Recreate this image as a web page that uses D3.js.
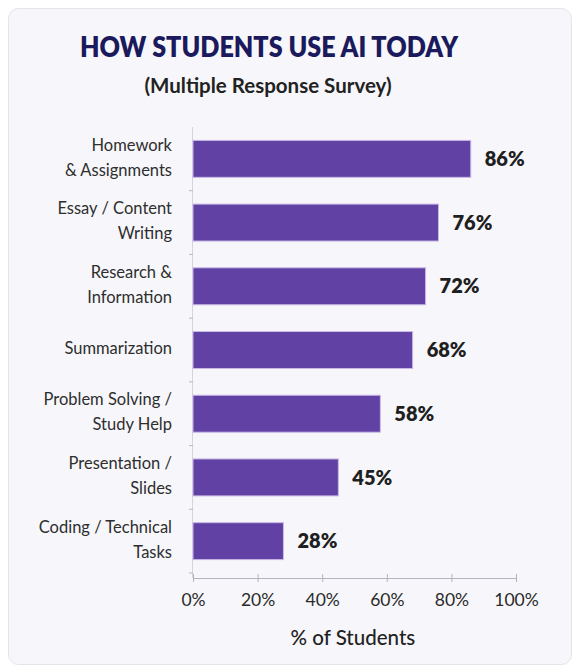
<!DOCTYPE html>
<html>
<head>
<meta charset="utf-8">
<script src="https://cdn.jsdelivr.net/npm/d3@7"></script>
<style>
    html, body { margin: 0; padding: 0; background: #ffffff; }
    svg { display: block; }
</style>
</head>
<body>
<svg id="chart"></svg>
<script>
// Chart data
const categories = [
    ["Homework", "& Assignments"],
    ["Essay / Content", "Writing"],
    ["Research &", "Information"],
    ["Summarization"],
    ["Problem Solving /", "Study Help"],
    ["Presentation /", "Slides"],
    ["Coding / Technical", "Tasks"]
];
const values = [86, 76, 72, 68, 58, 45, 28];
const xTicks = [0, 20, 40, 60, 80, 100];

function drawChart() {
    const W = 574, H = 666;
    const svg = d3.select('#chart')
        .attr('width', W)
        .attr('height', H)
        .style('font-family', 'Lato, "Open Sans", sans-serif');

    // Card background
    svg.append('rect')
        .attr('x', 8.5).attr('y', 8.5)
        .attr('width', 563).attr('height', 656)
        .attr('rx', 10)
        .attr('fill', '#f7f7fb')
        .attr('stroke', '#e3e3ea');

    // Title + subtitle
    svg.append('text')
        .attr('x', 269).attr('y', 57)
        .attr('text-anchor', 'middle')
        .attr('font-size', 29)
        .attr('font-weight', 800)
        .attr('fill', '#1b1a5c')
        .attr('textLength', 378)
        .attr('lengthAdjust', 'spacingAndGlyphs')
        .text('HOW STUDENTS USE AI TODAY');

    svg.append('text')
        .attr('x', 268).attr('y', 93)
        .attr('text-anchor', 'middle')
        .attr('font-size', 20.5)
        .attr('font-weight', 700)
        .attr('fill', '#222')
        .text('(Multiple Response Survey)');

    const margin = { left: 193, right: 58, top: 127 };
    const width = W - margin.left - margin.right;  // 323
    const plotBottom = 573;

    const x = d3.scaleLinear().domain([0, 100]).range([margin.left, margin.left + width]);
    const y = d3.scaleBand()
        .domain(d3.range(categories.length))
        .range([margin.top, plotBottom])
        .paddingInner(0.42)
        .paddingOuter(0.21);

    // Y axis line with ticks between bands
    svg.append('line')
        .attr('x1', margin.left - 0.5).attr('x2', margin.left - 0.5)
        .attr('y1', margin.top).attr('y2', plotBottom + 5)
        .attr('stroke', '#d5d3de');

    const boundaries = d3.range(1, categories.length + 1).map(i => y(i - 1) + y.bandwidth() + y.step() * y.paddingInner() / 2);
    svg.selectAll('.ytick')
        .data(boundaries)
        .enter().append('line')
        .attr('x1', margin.left - 4).attr('x2', margin.left)
        .attr('y1', d => d).attr('y2', d => d)
        .attr('stroke', '#b8b6c4');

    // Bars
    svg.selectAll('.bar')
        .data(values)
        .enter().append('rect')
        .attr('class', 'bar')
        .attr('x', x(0))
        .attr('y', (d, i) => y(i))
        .attr('width', d => x(d) - x(0))
        .attr('height', y.bandwidth())
        .attr('fill', '#6142a4')
        .attr('stroke', '#c9b9e6')
        .attr('stroke-width', 1);

    // Value labels
    svg.selectAll('.val')
        .data(values)
        .enter().append('text')
        .attr('x', d => x(d) + 14)
        .attr('y', (d, i) => y(i) + y.bandwidth() / 2 + 2)
        .attr('dominant-baseline', 'middle')
        .attr('font-size', 20)
        .attr('font-weight', 800)
        .attr('fill', '#1f1f1f')
        .text(d => d + '%');

    // Category labels
    const lineGap = 25;
    svg.selectAll('.cat')
        .data(categories)
        .enter().append('text')
        .attr('text-anchor', 'end')
        .attr('font-size', 16.5)
        .attr('fill', '#2e2e2e')
        .each(function (lines, i) {
            const cy = y(i) + y.bandwidth() / 2;
            const start = cy - (lines.length - 1) * lineGap / 2;
            d3.select(this).selectAll('tspan')
                .data(lines)
                .enter().append('tspan')
                .attr('x', 172)
                .attr('y', (t, j) => start + j * lineGap)
                .attr('dominant-baseline', 'middle')
                .text(t => t);
        });

    // X axis
    const axisY = 578;
    const xAxis = svg.append('g')
        .attr('transform', `translate(0,${axisY})`)
        .call(d3.axisBottom(x).tickValues(xTicks).tickFormat(d => d + '%').tickSize(0).tickPadding(16));
    xAxis.select('.domain').attr('stroke', '#b5b3c0').attr('stroke-width', 1.2);
    xAxis.selectAll('.tick').append('line')
        .attr('y1', -4).attr('y2', 4)
        .attr('stroke', '#b5b3c0');
    xAxis.selectAll('.tick text')
        .attr('font-family', 'Lato, "Open Sans", sans-serif')
        .attr('font-size', 17.5)
        .attr('fill', '#2a2a2a');

    // X axis title
    svg.append('text')
        .attr('x', x(49.5)).attr('y', 645)
        .attr('text-anchor', 'middle')
        .attr('font-size', 20.5)
        .attr('font-weight', 500)
        .attr('fill', '#222')
        .text('% of Students');
}

drawChart();
</script>
</body>
</html>
